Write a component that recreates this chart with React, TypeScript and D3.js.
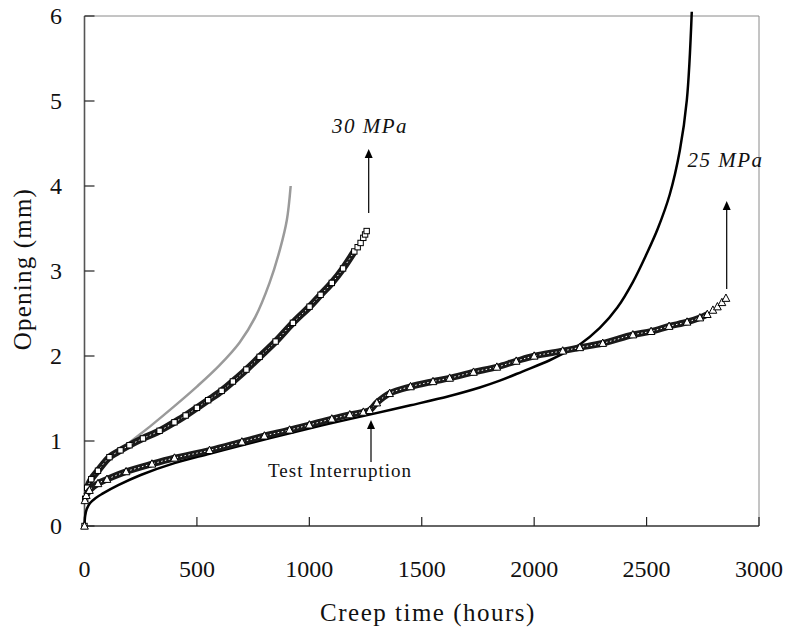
import React from 'react';
import * as d3 from 'd3';

const xTicks = [0, 500, 1000, 1500, 2000, 2500, 3000];
const yTicks = [0, 1, 2, 3, 4, 5, 6];

// 30 MPa model (gray)
const gray30T = [0, 20, 50, 100, 200, 300, 400, 500, 600, 690, 760, 823, 870, 900, 917];
const gray30Y = [0.3, 0.5, 0.62, 0.76, 0.98, 1.19, 1.41, 1.64, 1.89, 2.16, 2.46, 2.86, 3.26, 3.6, 4.0];

// 30 MPa experiment (squares)
const sq30T = [0, 3, 12, 30, 60, 111, 160, 200, 260, 334, 400, 450, 500, 550, 610, 660, 720, 779, 850, 927, 1001, 1050, 1100, 1150, 1200, 1215, 1228, 1240, 1248, 1255];
const sq30Y = [0, 0.32, 0.45, 0.55, 0.65, 0.81, 0.89, 0.95, 1.03, 1.12, 1.22, 1.3, 1.39, 1.48, 1.59, 1.7, 1.84, 1.99, 2.17, 2.39, 2.58, 2.72, 2.86, 3.03, 3.23, 3.28, 3.33, 3.39, 3.43, 3.47];

// 25 MPa experiment (triangles)
const tr25T = [0, 2, 8, 22, 60, 100, 185, 300, 400, 556, 700, 800, 912, 1000, 1100, 1180, 1240, 1268, 1300, 1357, 1450, 1550, 1624, 1730, 1834, 1920, 2000, 2127, 2203, 2305, 2439, 2520, 2600, 2680, 2737, 2770, 2795, 2815, 2835, 2853];
const tr25Y = [0, 0.3, 0.36, 0.42, 0.5, 0.55, 0.64, 0.73, 0.8, 0.89, 0.99, 1.06, 1.13, 1.19, 1.26, 1.31, 1.34, 1.36, 1.45, 1.56, 1.64, 1.7, 1.74, 1.81, 1.87, 1.94, 2.0, 2.06, 2.1, 2.15, 2.25, 2.29, 2.35, 2.4, 2.45, 2.49, 2.54, 2.58, 2.63, 2.68];

// 25 MPa model (black)
const black25T = [0, 3, 10, 25, 50, 80, 150, 250, 400, 556, 700, 926, 1100, 1268, 1450, 1624, 1758, 1847, 1950, 2069, 2130, 2200, 2292, 2370, 2439, 2500, 2550, 2603, 2648, 2679, 2701];
const black25Y = [0, 0.12, 0.2, 0.27, 0.33, 0.38, 0.48, 0.6, 0.74, 0.85, 0.95, 1.1, 1.21, 1.31, 1.42, 1.53, 1.63, 1.71, 1.82, 1.95, 2.03, 2.13, 2.33, 2.57, 2.87, 3.2, 3.5, 3.9, 4.42, 5.01, 6.05];

const W = 787;
const H = 632;
const left = 84.5;
const right = 759;
const top = 16;
const bottom = 526;

const serif = "'Liberation Serif', 'Times New Roman', serif";

function zip(t: number[], y: number[]) {
  return t.map((v, i) => [v, y[i]] as [number, number]);
}

export default function App() {
  const x = d3.scaleLinear().domain([0, 3000]).range([left, right]);
  const y = d3.scaleLinear().domain([0, 6]).range([bottom, top]);
  const line = d3
    .line<[number, number]>()
    .x((d) => x(d[0]))
    .y((d) => y(d[1]))
    .curve(d3.curveCatmullRom.alpha(0.5));

  const gray = zip(gray30T, gray30Y);
  const sq = zip(sq30T, sq30Y);
  const tr = zip(tr25T, tr25Y);
  const bl = zip(black25T, black25Y);

  const sqBand = sq.filter((d) => d[0] > 5 && d[0] <= 1200);
  const trBand = tr.filter((d) => d[0] > 5 && d[0] <= 2770);

  const triPath = (cx: number, cy: number, s: number) =>
    `M${cx},${cy - s * 0.6}L${cx + s * 0.55},${cy + s * 0.45}L${cx - s * 0.55},${cy + s * 0.45}Z`;

  const arrow = (ax: number, y1: number, y2: number) => (
    <g>
      <line x1={ax} x2={ax} y1={y1} y2={y2 + 8} stroke="#000" strokeWidth={1.2} />
      <path d={`M${ax},${y2}L${ax + 4},${y2 + 9}L${ax - 4},${y2 + 9}Z`} fill="#000" />
    </g>
  );

  return (
    <svg width={W} height={H} style={{ position: 'fixed', left: 0, top: 0, background: '#fff' }}>
      <rect x={0} y={0} width={W} height={H} fill="#fff" />
      {/* frame */}
      <line x1={left} x2={right} y1={top} y2={top} stroke="#8a8a8a" strokeWidth={1} />
      <line x1={right} x2={right} y1={top} y2={bottom} stroke="#8a8a8a" strokeWidth={1} />
      <line x1={left} x2={left} y1={top} y2={bottom} stroke="#555" strokeWidth={1.6} />
      <line x1={left} x2={right} y1={bottom} y2={bottom} stroke="#333" strokeWidth={1.6} />
      {yTicks.map((t) => (
        <g key={'y' + t}>
          <line x1={left} x2={left + 10} y1={y(t)} y2={y(t)} stroke="#222" strokeWidth={1.2} />
          <text x={62} y={y(t)} textAnchor="end" dominantBaseline="central" fontFamily={serif} fontSize={24} fill="#111">
            {t}
          </text>
        </g>
      ))}
      {xTicks.map((t) => (
        <g key={'x' + t}>
          <line x1={x(t)} x2={x(t)} y1={bottom} y2={bottom - 9} stroke="#222" strokeWidth={1.2} />
          <text x={x(t)} y={577} textAnchor="middle" fontFamily={serif} fontSize={24} fill="#111">
            {t}
          </text>
        </g>
      ))}
      <text x={428} y={621} textAnchor="middle" fontFamily={serif} fontSize={25} letterSpacing={1.5} fill="#111">
        Creep time (hours)
      </text>
      <text
        transform={`translate(31,269) rotate(-90)`}
        textAnchor="middle"
        fontFamily={serif}
        fontSize={25}
        letterSpacing={1.2}
        fill="#111"
      >
        Opening (mm)
      </text>

      {/* gray model */}
      <path d={line(gray) || ''} fill="none" stroke="#9a9a9a" strokeWidth={2.5} />

      {/* square band */}
      <path d={line(sqBand) || ''} fill="none" stroke="#1a1a1a" strokeWidth={7} />
      <path d={line(sqBand) || ''} fill="none" stroke="#fff" strokeWidth={1} strokeDasharray="1.5 2.5" />
      {sq.map((d, i) => (
        <rect key={'s' + i} x={x(d[0]) - 2.7} y={y(d[1]) - 2.7} width={5.4} height={5.4} fill="#fff" stroke="#000" strokeWidth={1} />
      ))}

      {/* black model */}
      <path d={line(bl) || ''} fill="none" stroke="#000" strokeWidth={2.5} />

      {/* triangle band */}
      <path d={line(trBand) || ''} fill="none" stroke="#1a1a1a" strokeWidth={6.5} />
      <path d={line(trBand) || ''} fill="none" stroke="#fff" strokeWidth={1} strokeDasharray="1.5 2.5" />
      {tr.map((d, i) => (
        <path key={'t' + i} d={triPath(x(d[0]), y(d[1]), 7)} fill="#fff" stroke="#000" strokeWidth={1} />
      ))}

      {/* annotations */}
      {arrow(368.7, 213, 149)}
      <text x={370} y={133} textAnchor="middle" fontFamily={serif} fontStyle="italic" fontSize={21} letterSpacing={1.5} fill="#111">
        30 MPa
      </text>
      {arrow(726.7, 289, 201)}
      <text x={725.5} y={167} textAnchor="middle" fontFamily={serif} fontStyle="italic" fontSize={21} letterSpacing={1.5} fill="#111">
        25 MPa
      </text>
      {arrow(371, 462, 420)}
      <text x={340} y={477} textAnchor="middle" fontFamily={serif} fontSize={19} letterSpacing={1} fill="#111">
        Test Interruption
      </text>
    </svg>
  );
}
